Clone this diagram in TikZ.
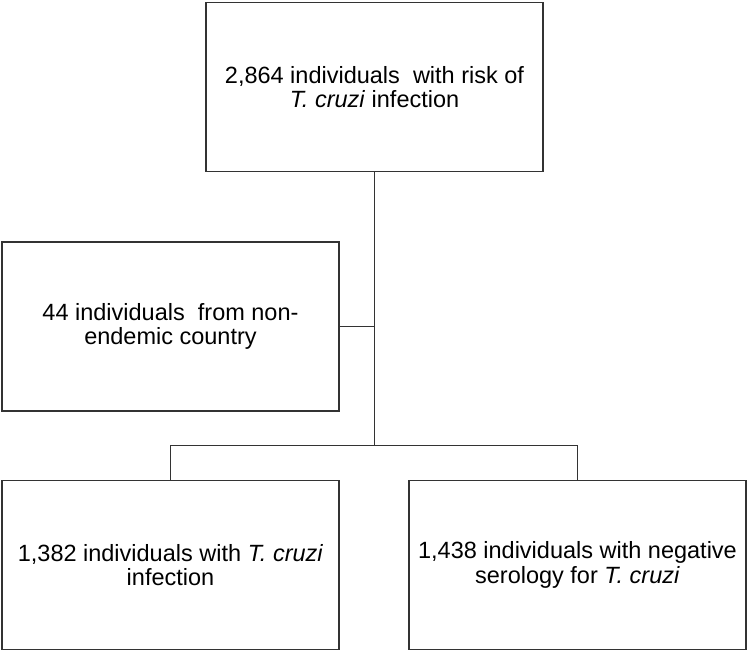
\documentclass[tikz,border=0pt]{standalone}
\usepackage{fontspec}
\setmainfont{Liberation Sans}
\usepackage{tikz}
\usetikzlibrary{calc}

\begin{document}
\begin{tikzpicture}[x=1pt,y=-1pt,
    box/.style={draw=black!80, line width=1.6pt, minimum width=337pt, minimum height=169pt,
        inner sep=0pt, align=center, font=\fontsize{23.5}{24.5}\selectfont},
    link/.style={draw=black!80, line width=1.6pt}]

    % Fix the page size
    \useasboundingbox (0,0) rectangle (750,652);

    % Draw the boxes
    \node[box] (risk) at (374.5,87) {2,864 individuals~ with risk of\\\textit{T. cruzi} infection};
    \node[box] (nonendemic) at (170.5,326.5) {44 individuals~ from non-\\endemic country};
    \node[box] (infected) at (170.5,565) {1,382 individuals with \textit{T. cruzi}\\infection};
    \node[box] (negative) at (577.5,565) {1,438 individuals with negative\\serology for \textit{T. cruzi}};

    % Draw the connectors
    \coordinate (split) at ($(risk.south)+(0,273)$);
    \draw[link] (risk.south) -- (split);
    \draw[link] (nonendemic.east) -- (nonendemic.east -| risk.south);
    \draw[link] (infected.north) |- (split) -| (negative.north);
\end{tikzpicture}
\end{document}
